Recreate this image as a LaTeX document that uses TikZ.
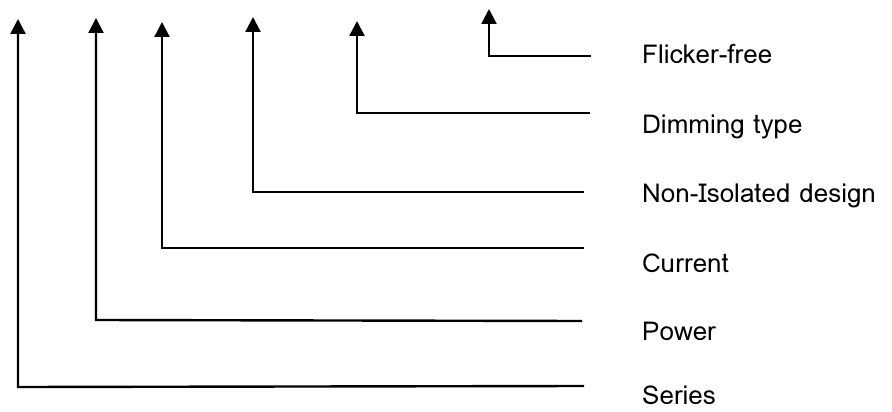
\documentclass[tikz,border=0pt]{standalone}
\usepackage{fontspec}
\setmainfont{Loma}
\usetikzlibrary{arrows.meta}
\begin{document}
\begin{tikzpicture}[x=1pt,y=-1pt,
  conn/.style={line width=2.4pt,-{Triangle[length=15pt,width=15pt]}},
  lbl/.style={anchor=base west,inner sep=0pt,text depth=0pt,font=\fontsize{26pt}{30pt}\selectfont}]
\useasboundingbox (0,0) rectangle (892,412);
% coordinates
\coordinate (sT) at (18,19);  \coordinate (sC) at (18,387); \coordinate (sE) at (584,386);
\coordinate (pT) at (96,18);  \coordinate (pC) at (96,320); \coordinate (pE) at (582,321);
\coordinate (cT) at (162,22); \coordinate (cC) at (162,248); \coordinate (cE) at (584,248);
\coordinate (nT) at (253,17); \coordinate (nC) at (253,192); \coordinate (nE) at (584,192);
\coordinate (dT) at (357,21); \coordinate (dC) at (357,113); \coordinate (dE) at (590,113);
\coordinate (fT) at (489,9);  \coordinate (fC) at (489,56);  \coordinate (fE) at (591,56);
% labels
\node[lbl] (fL) at (642,64)  {Flicker-free};
\node[lbl] (dL) at (642,133) {Dimming type};
\node[lbl] (nL) at (642,202) {Non-Isolated design};
\node[lbl] (cL) at (642,272) {Current};
\node[lbl] (pL) at (642,340) {Power};
\node[lbl] (sL) at (642,404) {Series};
% connectors
\draw[conn] (sE) -- (sC) -- (sT);
\draw[conn] (pE) -- (pC) -- (pT);
\draw[conn] (cE) -- (cC) -- (cT);
\draw[conn] (nE) -- (nC) -- (nT);
\draw[conn] (dE) -- (dC) -- (dT);
\draw[conn] (fE) -- (fC) -- (fT);
\end{tikzpicture}
\end{document}
